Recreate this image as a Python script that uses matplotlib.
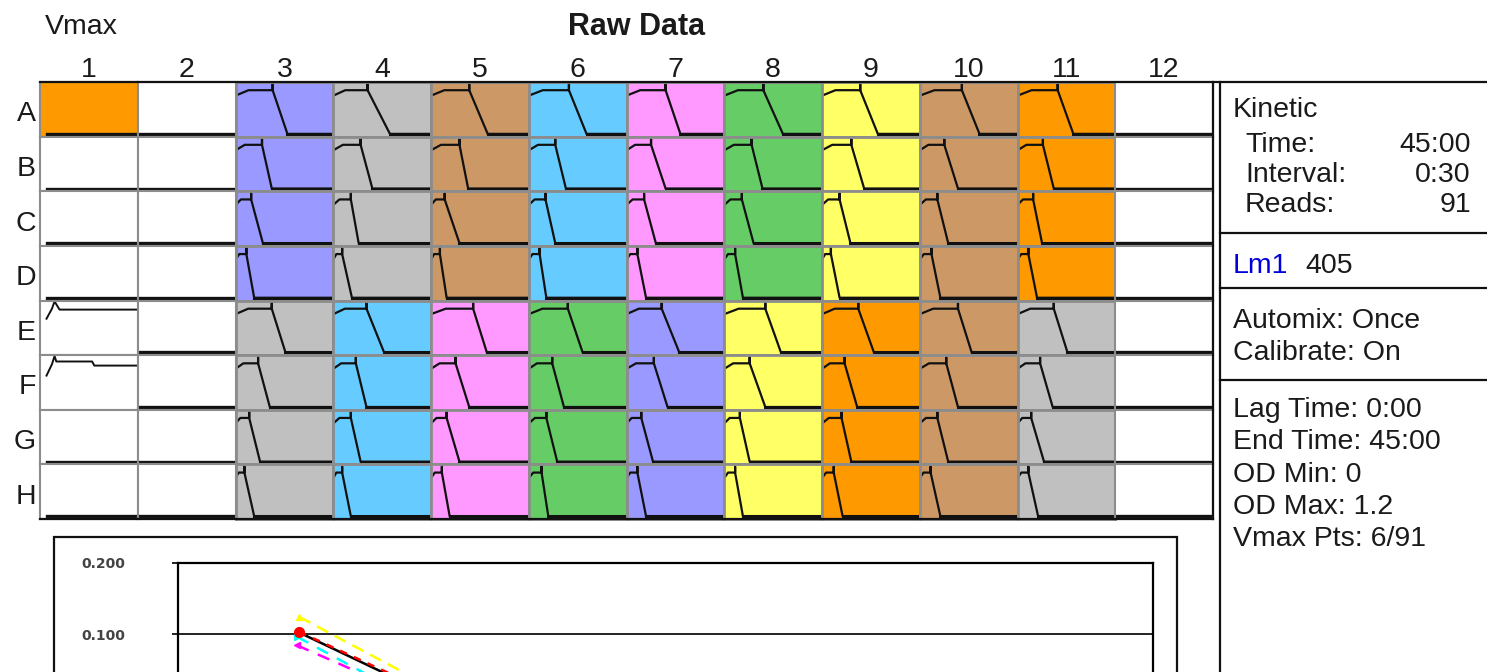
import matplotlib.pyplot as plt
from matplotlib.lines import Line2D
from matplotlib.patches import Rectangle

plt.rcParams['font.family'] = ['Liberation Sans', 'DejaVu Sans']

W, H = 1487, 672


def fx(x):
    return x / W


def fy(y):
    return 1 - y / H


# --- plate layout ---
rows = list('ABCDEFGH')
cols = [str(i) for i in range(1, 13)]

palette = {'o': '#ff9900', 'w': '#ffffff', 'p': '#9999ff', 'g': '#c0c0c0',
           't': '#cc9966', 'b': '#66ccff', 'k': '#ff99ff', 'n': '#66cc66',
           'y': '#ffff66'}
well_colors = ['owpgtbknytow',
               'wwpgtbknytow',
               'wwpgtbknytow',
               'wwpgtbknytow',
               'wwgbknpyotgw',
               'wwgbknpyotgw',
               'wwgbknpyotgw',
               'wwgbknpyotgw']

# minutes where each curve (cols 3..11) leaves the plateau / reaches baseline
drop_start = {
    'A': [17.1, 15.8, 17.6, 18.5, 18.0, 18.0, 17.6, 19.4, 18.5],
    'B': [12.2, 12.6, 13.1, 12.2, 11.3, 12.6, 13.5, 11.3, 11.7],
    'C': [7.2, 8.1, 6.3, 7.7, 8.1, 8.1, 8.1, 8.1, 7.2],
    'D': [5.0, 4.1, 4.1, 5.0, 5.0, 5.0, 4.1, 5.4, 5.0],
    'E': [16.7, 15.3, 19.4, 18.0, 16.2, 18.9, 16.7, 17.6, 16.7],
    'F': [10.4, 10.4, 11.3, 10.8, 12.6, 11.7, 10.4, 12.2, 10.4],
    'G': [6.3, 8.1, 7.2, 8.1, 6.8, 7.2, 9.0, 8.1, 6.3],
    'H': [4.1, 4.1, 5.0, 5.9, 5.0, 5.0, 5.4, 5.0, 5.0],
}
drop_end = {
    'A': [23.9, 26.1, 26.1, 26.6, 24.8, 27.0, 25.7, 27.5, 25.7],
    'B': [16.7, 18.0, 17.1, 17.1, 18.0, 17.6, 19.4, 17.6, 16.7],
    'C': [12.6, 11.7, 13.1, 12.2, 13.5, 13.5, 13.1, 13.1, 11.3],
    'D': [8.6, 8.6, 7.2, 8.1, 9.0, 8.6, 8.1, 9.5, 9.0],
    'E': [23.0, 23.4, 25.7, 24.8, 24.3, 26.1, 23.9, 23.9, 23.0],
    'F': [15.8, 15.3, 17.6, 16.2, 18.9, 18.9, 16.2, 17.6, 16.2],
    'G': [11.3, 12.6, 13.1, 13.1, 12.2, 11.7, 13.5, 13.1, 12.2],
    'H': [8.6, 8.1, 8.6, 9.0, 9.0, 8.6, 9.5, 9.5, 9.5],
}
start_od, plateau_od, spike_od, base_od = 0.90, 1.02, 1.15, 0.06
run_time = 45.0
col1_first = 3.0

# wells E1 and F1 stay high
e1_t = [3.0, 5.5, 6.7, 9.0, 45.0]
e1_od = [0.80, 1.02, 1.18, 1.00, 1.00]
f1_t = [3.0, 5.5, 6.7, 7.5, 24.0, 25.0, 45.0]
f1_od = [0.75, 1.00, 1.18, 1.06, 1.06, 0.97, 0.97]

# --- Vmax plot ---
vmax_start_t = [5.6, 5.5, 5.5, 5.6, 5.6]
vmax_end_t = [12.0, 12.0, 12.0, 12.0, 12.0]
vmax_start = [0.124, 0.096, 0.084, 0.102, 0.103]
vmax_end = [0.020, -0.011, -0.003, 0.009, 0.013]
vmax_colors = ['#ffff00', '#00ffff', '#ff00ff', '#000000', '#ff0000']
vmax_styles = [(0, (5, 3)), (0, (5, 4)), (0, (5, 4)), '-', (0, (3, 3))]
vmax_markers = ['^', '>', '<', None, 'o']
vmax_msize = [5, 5, 5, 0, 7]

fig = plt.figure(figsize=(W / 100, H / 100), dpi=100)

gs = fig.add_gridspec(8, 12, left=fx(40), right=fx(1213), top=fy(82),
                      bottom=fy(519), wspace=0, hspace=0)

for i, r in enumerate(rows):
    for j in range(12):
        ax = fig.add_subplot(gs[i, j])
        ax.set_facecolor(palette[well_colors[i][j]])
        ax.set_xlim(0, run_time)
        ax.set_ylim(0, 1.2)
        ax.set_xticks([])
        ax.set_yticks([])
        for s in ax.spines.values():
            s.set_color('#8c8c8c')
            s.set_linewidth(2.0 if 2 <= j <= 10 else 1.5)
        if 2 <= j <= 10:
            ds = drop_start[r][j - 2]
            de = drop_end[r][j - 2]
            t = [0, ds * 0.35, ds, ds, ds, de, run_time]
            od = [start_od, plateau_od, plateau_od, spike_od, plateau_od,
                  base_od, base_od]
            ax.plot(t, od, color='#111111', lw=1.6)
            ax.plot([de, run_time], [base_od, base_od], color='#111111', lw=2.2)
        elif r == 'E' and j == 0:
            ax.plot(e1_t, e1_od, color='#111111', lw=1.4)
        elif r == 'F' and j == 0:
            ax.plot(f1_t, f1_od, color='#111111', lw=1.4)
        else:
            t0 = col1_first if j == 0 else 0
            ax.plot([t0, run_time], [base_od, base_od], color='#111111', lw=2.4)

txt = dict(color='#1a1a1a', fontsize=20.5)
fig.text(fx(45), fy(34), 'Vmax', ha='left', va='baseline', **txt)
fig.text(fx(637), fy(35), 'Raw Data', ha='center', va='baseline',
         fontsize=22, fontweight='bold', color='#1a1a1a')
cw = (1213 - 40) / 12
rh = (519 - 82) / 8
for j, c in enumerate(cols):
    fig.text(fx(40 + cw * (j + 0.5)), fy(77), c, ha='center', va='baseline', **txt)
for i, r in enumerate(rows):
    fig.text(fx(36), fy(82 + rh * (i + 0.5) + 12), r, ha='right', va='baseline', **txt)

# frame lines
frame = [((40, 1487), (82, 82)), ((40, 1213), (519, 519)),
         ((1213, 1213), (82, 519)), ((1220, 1220), (82, 672)),
         ((1220, 1487), (233, 233)), ((1220, 1487), (288, 288)),
         ((1220, 1487), (380, 380))]
for xs, ys in frame:
    fig.add_artist(Line2D([fx(x) for x in xs], [fy(y) for y in ys],
                          color='#111111', lw=1.6, transform=fig.transFigure))

# right panel
fig.text(fx(1233), fy(117), 'Kinetic', ha='left', va='baseline', **txt)
panel_rows = [('Time:', '45:00', 152), ('Interval:', '0:30', 182), ('Reads:', '91', 212)]
for lab, val, y in panel_rows:
    fig.text(fx(1245), fy(y), lab, ha='left', va='baseline', **txt)
    fig.text(fx(1471), fy(y), val, ha='right', va='baseline', **txt)
fig.text(fx(1233), fy(273), 'Lm1', ha='left', va='baseline', fontsize=20.5, color='#0000dd')
fig.text(fx(1305), fy(273), '405', ha='left', va='baseline', **txt)
fig.text(fx(1233), fy(328), 'Automix: Once', ha='left', va='baseline', **txt)
fig.text(fx(1233), fy(360), 'Calibrate: On', ha='left', va='baseline', **txt)
settings = ['Lag Time: 0:00', 'End Time: 45:00', 'OD Min: 0', 'OD Max: 1.2', 'Vmax Pts: 6/91']
for k, s in enumerate(settings):
    fig.text(fx(1233), fy(417 + 32.3 * k), s, ha='left', va='baseline', **txt)

# Vmax chart
fig.add_artist(Rectangle((fx(54), fy(720)), fx(1177) - fx(54), (720 - 537) / H,
                         fill=False, ec='#111111', lw=1.6, transform=fig.transFigure))
axv = fig.add_axes([fx(178), fy(705), fx(1153) - fx(178), 142 / H])
axv.set_xlim(0, run_time)
axv.set_ylim(0, 0.2)
axv.set_xticks([])
axv.set_yticks([0.1, 0.2])
axv.set_yticklabels(['0.100', '0.200'], fontsize=10, color='#444444',
                    family='DejaVu Sans', fontweight='bold')
axv.tick_params(axis='y', direction='out', length=4, width=1.2, pad=34)
axv.axhline(0.1, color='#111111', lw=1.3)
for s in ['left', 'top', 'right']:
    axv.spines[s].set_linewidth(1.6)
axv.spines['bottom'].set_visible(False)
for k in range(len(vmax_start)):
    axv.plot([vmax_start_t[k], vmax_end_t[k]], [vmax_start[k], vmax_end[k]],
             color=vmax_colors[k], ls=vmax_styles[k], lw=1.8)
for k in range(len(vmax_start)):
    if vmax_markers[k]:
        axv.plot(vmax_start_t[k], vmax_start[k], marker=vmax_markers[k],
                 color=vmax_colors[k], ms=vmax_msize[k], ls='none', zorder=4 + k)

fig.savefig('out.png', dpi=100)
